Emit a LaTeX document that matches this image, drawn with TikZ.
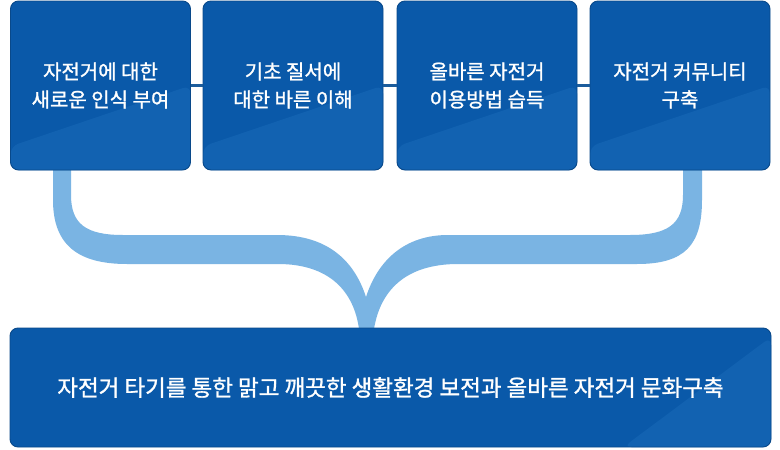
\documentclass[tikz,border=0pt]{standalone}
\usepackage{fontspec}
\newfontfamily\kr[FakeBold=1.2]{Noto Sans CJK KR}
\usetikzlibrary{calc}
\definecolor{boxblue}{HTML}{0A59A9}
\definecolor{boxlight}{HTML}{1262B1}
\definecolor{boxedge}{HTML}{09498A}
\definecolor{bracecol}{HTML}{7AB4E3}
\definecolor{linkcol}{HTML}{1B5C9C}
\tikzset{
  box/.style={draw=boxedge, line width=0.9pt, rounded corners=8pt, fill=boxblue,
    text=white, align=center, inner sep=0pt},
  topbox/.style={box, minimum width=180pt, minimum height=169pt,
    font=\kr\fontsize{20}{28}\selectfont,
    path picture={\fill[boxlight]
      ($(path picture bounding box.south west)!0.14!(path picture bounding box.north west)$) --
      ($(path picture bounding box.north east)!0.5!(path picture bounding box.south east)$) --
      (path picture bounding box.south east) -- (path picture bounding box.south west) -- cycle;}},
  botbox/.style={box, minimum width=761pt, minimum height=119pt,
    font=\kr\fontsize{22.5}{28}\selectfont,
    path picture={\fill[boxlight]
      ($(path picture bounding box.south west)!0.806!(path picture bounding box.south east)$) --
      ($(path picture bounding box.north east)!0.075!(path picture bounding box.south east)$) --
      (path picture bounding box.south east) -- cycle;}},
  link/.style={draw=linkcol, line width=2.5pt},
  brace/.style={fill=bracecol, draw=none}
}
\begin{document}
\begin{tikzpicture}[x=1pt,y=-1pt]
\useasboundingbox (0,0) rectangle (780,450);
\fill[white] (0,0) rectangle (780,450);
% brace
\path[brace]
  (53,170) -- (53,200) .. controls (53,245) and (78,264) .. (127,264)
  -- (278,264) .. controls (330,264) and (354,292) .. (359,329)
  -- (374,329) .. controls (380,292) and (404,264) .. (458,264)
  -- (637,264) .. controls (685,264) and (702,245) .. (702,200)
  -- (702,170) -- (683,170) -- (683,195)
  .. controls (683,224) and (668,235) .. (630,235)
  -- (448,235) .. controls (405,235) and (378,260) .. (366,297)
  .. controls (354,260) and (327,235) .. (277,235)
  -- (123,235) .. controls (86,235) and (71,224) .. (71,195)
  -- (71,170) -- cycle;
% boxes
\node[topbox] (b1) at (100.5,85.5) {자전거에 대한\\새로운 인식 부여};
\node[topbox] (b2) at (293,85.5) {기초 질서에\\대한 바른 이해};
\node[topbox] (b3) at (487,85.5) {올바른 자전거\\이용방법 습득};
\node[topbox] (b4) at (680,85.5) {자전거 커뮤니티\\구축};
\node[botbox] (b5) at (390.5,387.5) {자전거 타기를 통한 맑고 깨끗한 생활환경 보전과 올바른 자전거 문화구축};
% links
\draw[link] (b1.east) -- (b2.west);
\draw[link] (b2.east) -- (b3.west);
\draw[link] (b3.east) -- (b4.west);
\end{tikzpicture}
\end{document}
